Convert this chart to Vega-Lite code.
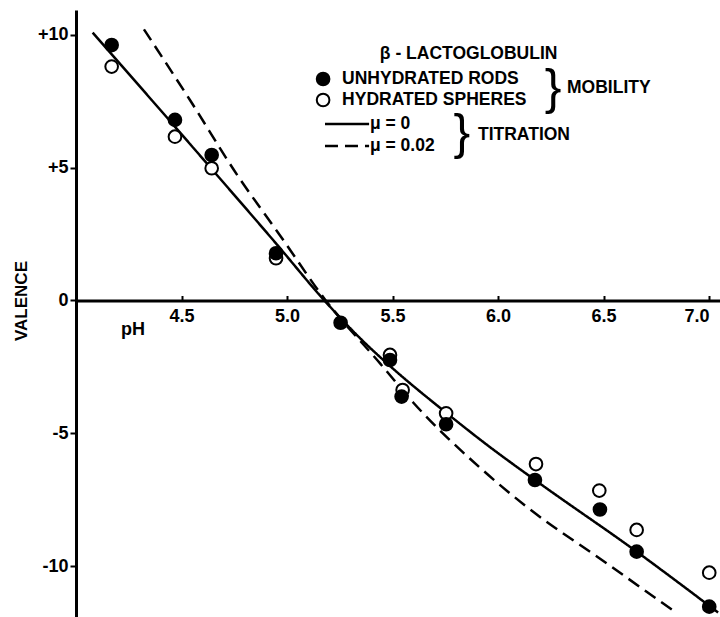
{
  "$schema": "https://vega.github.io/schema/vega-lite/v6.json",
  "width": 644,
  "height": 607,
  "autosize": {"type": "none"},
  "padding": {"left": 76, "top": 10, "right": 0, "bottom": 0},
  "background": "white",
  "config": {
    "view": {"stroke": null},
    "font": "Liberation Sans",
    "axis": {"grid": false, "domainColor": "black", "tickColor": "black", "labelColor": "black", "titleColor": "black", "labelFont": "Liberation Sans", "titleFont": "Liberation Sans"}
  },
  "datasets": {
    "obs": [
      {"pH": 4.169, "valence": 8.81, "form": "HYDRATED SPHERES"},
      {"pH": 4.469, "valence": 6.17, "form": "HYDRATED SPHERES"},
      {"pH": 4.643, "valence": 4.98, "form": "HYDRATED SPHERES"},
      {"pH": 4.948, "valence": 1.59, "form": "HYDRATED SPHERES"},
      {"pH": 5.488, "valence": -2.05, "form": "HYDRATED SPHERES"},
      {"pH": 5.548, "valence": -3.37, "form": "HYDRATED SPHERES"},
      {"pH": 5.754, "valence": -4.25, "form": "HYDRATED SPHERES"},
      {"pH": 6.180, "valence": -6.16, "form": "HYDRATED SPHERES"},
      {"pH": 6.480, "valence": -7.16, "form": "HYDRATED SPHERES"},
      {"pH": 6.657, "valence": -8.64, "form": "HYDRATED SPHERES"},
      {"pH": 7.001, "valence": -10.25, "form": "HYDRATED SPHERES"},
      {"pH": 4.169, "valence": 9.62, "form": "UNHYDRATED RODS"},
      {"pH": 4.469, "valence": 6.80, "form": "UNHYDRATED RODS"},
      {"pH": 4.643, "valence": 5.48, "form": "UNHYDRATED RODS"},
      {"pH": 4.948, "valence": 1.78, "form": "UNHYDRATED RODS"},
      {"pH": 5.254, "valence": -0.84, "form": "UNHYDRATED RODS"},
      {"pH": 5.488, "valence": -2.24, "form": "UNHYDRATED RODS"},
      {"pH": 5.543, "valence": -3.62, "form": "UNHYDRATED RODS"},
      {"pH": 5.754, "valence": -4.66, "form": "UNHYDRATED RODS"},
      {"pH": 6.175, "valence": -6.76, "form": "UNHYDRATED RODS"},
      {"pH": 6.483, "valence": -7.87, "form": "UNHYDRATED RODS"},
      {"pH": 6.657, "valence": -9.46, "form": "UNHYDRATED RODS"},
      {"pH": 7.001, "valence": -11.53, "form": "UNHYDRATED RODS"}
    ],
    "curves": [
      {"pH": 4.079, "valence": 10.09, "curve": "μ = 0"},
      {"pH": 4.651, "valence": 4.88, "curve": "μ = 0"},
      {"pH": 4.951, "valence": 2.12, "curve": "μ = 0"},
      {"pH": 5.175, "valence": 0.02, "curve": "μ = 0"},
      {"pH": 5.350, "valence": -1.45, "curve": "μ = 0"},
      {"pH": 5.500, "valence": -2.55, "curve": "μ = 0"},
      {"pH": 5.750, "valence": -4.20, "curve": "μ = 0"},
      {"pH": 5.950, "valence": -5.45, "curve": "μ = 0"},
      {"pH": 6.175, "valence": -6.76, "curve": "μ = 0"},
      {"pH": 6.657, "valence": -9.46, "curve": "μ = 0"},
      {"pH": 7.043, "valence": -11.75, "curve": "μ = 0"},
      {"pH": 4.322, "valence": 10.21, "curve": "μ = 0.02"},
      {"pH": 4.540, "valence": 7.55, "curve": "μ = 0.02"},
      {"pH": 4.762, "valence": 4.75, "curve": "μ = 0.02"},
      {"pH": 4.967, "valence": 2.45, "curve": "μ = 0.02"},
      {"pH": 5.180, "valence": 0.04, "curve": "μ = 0.02"},
      {"pH": 5.441, "valence": -2.37, "curve": "μ = 0.02"},
      {"pH": 5.599, "valence": -3.85, "curve": "μ = 0.02"},
      {"pH": 5.915, "valence": -6.30, "curve": "μ = 0.02"},
      {"pH": 6.136, "valence": -7.77, "curve": "μ = 0.02"},
      {"pH": 6.515, "valence": -9.90, "curve": "μ = 0.02"},
      {"pH": 6.839, "valence": -11.73, "curve": "μ = 0.02"}
    ],
    "key_points": [
      {"pH": 5.171, "valence": 8.34, "form": "UNHYDRATED RODS"},
      {"pH": 5.171, "valence": 7.55, "form": "HYDRATED SPHERES"}
    ],
    "key_lines": [
      {"pH": 5.180, "pH2": 5.389, "valence": 6.65, "curve": "μ = 0"},
      {"pH": 5.180, "pH2": 5.389, "valence": 5.82, "curve": "μ = 0.02"}
    ],
    "key_text": [
      {"pH": 5.440, "valence": 9.28, "label": "β - LACTOGLOBULIN"},
      {"pH": 5.261, "valence": 8.34, "label": "UNHYDRATED  RODS"},
      {"pH": 5.261, "valence": 7.55, "label": "HYDRATED  SPHERES"},
      {"pH": 6.327, "valence": 8.00, "label": "MOBILITY"},
      {"pH": 5.393, "valence": 6.65, "label": "μ = 0"},
      {"pH": 5.393, "valence": 5.82, "label": "μ = 0.02"},
      {"pH": 5.905, "valence": 6.23, "label": "TITRATION"}
    ],
    "key_braces": [
      {"pH": 6.261, "valence": 7.97, "label": "}"},
      {"pH": 5.829, "valence": 6.27, "label": "}"}
    ]
  },
  "encoding": {
    "x": {
      "field": "pH", "type": "quantitative",
      "scale": {"domain": [4.0, 7.052], "nice": false, "zero": false},
      "axis": {
        "orient": "bottom", "offset": -316.5,
        "values": [4.5, 5, 5.5, 6, 6.5, 7], "format": ".1f",
        "domainWidth": 3, "tickWidth": 2, "tickSize": -5, "labelPadding": 12,
        "labelFlush": 15,
        "labelFontSize": 18, "labelFontWeight": "bold",
        "title": "pH", "titleX": 56.5, "titleY": 29, "titleAlign": "center", "titleBaseline": "middle",
        "titleFontSize": 18, "titleFontWeight": "bold"
      }
    },
    "y": {
      "field": "valence", "type": "quantitative",
      "scale": {"domain": [-11.92, 10.94], "nice": false, "zero": false},
      "axis": {
        "values": [-10, -5, 0, 5, 10],
        "labelExpr": "datum.value > 0 ? '+' + datum.label : replace(datum.label, '−', '-')",
        "domainWidth": 3, "tickWidth": 2, "tickSize": 6, "labelPadding": 2,
        "labelFontSize": 18, "labelFontWeight": "bold",
        "title": "VALENCE", "titleX": -55, "titleY": 290.5, "titleAngle": 270,
        "titleAlign": "center", "titleBaseline": "middle",
        "titleFontSize": 17, "titleFontWeight": "bold"
      }
    }
  },
  "layer": [
    {
      "data": {"name": "curves"},
      "mark": {"type": "line", "color": "black", "strokeWidth": 2.5, "interpolate": "monotone", "clip": true},
      "encoding": {
        "detail": {"field": "curve"},
        "strokeDash": {"field": "curve", "type": "nominal", "scale": {"domain": ["μ = 0", "μ = 0.02"], "range": [[1, 0], [13, 7]]}, "legend": null}
      }
    },
    {
      "data": {"name": "obs"},
      "mark": {"type": "point", "shape": "circle", "filled": true, "stroke": "black", "strokeWidth": 2, "size": 160, "opacity": 1},
      "encoding": {
        "fill": {"field": "form", "type": "nominal", "scale": {"domain": ["UNHYDRATED RODS", "HYDRATED SPHERES"], "range": ["black", "white"]}, "legend": null}
      }
    },
    {
      "data": {"name": "key_points"},
      "mark": {"type": "point", "shape": "circle", "filled": true, "stroke": "black", "strokeWidth": 2, "size": 160, "opacity": 1},
      "encoding": {
        "fill": {"field": "form", "type": "nominal", "scale": {"domain": ["UNHYDRATED RODS", "HYDRATED SPHERES"], "range": ["black", "white"]}, "legend": null}
      }
    },
    {
      "data": {"name": "key_lines"},
      "mark": {"type": "rule", "color": "black", "strokeWidth": 2.5},
      "encoding": {
        "x2": {"field": "pH2"},
        "strokeDash": {"field": "curve", "type": "nominal", "scale": {"domain": ["μ = 0", "μ = 0.02"], "range": [[1, 0], [13, 7]]}, "legend": null}
      }
    },
    {
      "data": {"name": "key_text"},
      "mark": {"type": "text", "align": "left", "baseline": "middle", "font": "Liberation Sans", "fontSize": 17.5, "fontWeight": "bold", "color": "black"},
      "encoding": {"text": {"field": "label"}}
    },
    {
      "data": {"name": "key_braces"},
      "mark": {"type": "text", "align": "center", "baseline": "middle", "font": "Liberation Sans", "fontSize": 50, "fontWeight": "normal", "color": "black"},
      "encoding": {"text": {"field": "label"}}
    }
  ]
}
